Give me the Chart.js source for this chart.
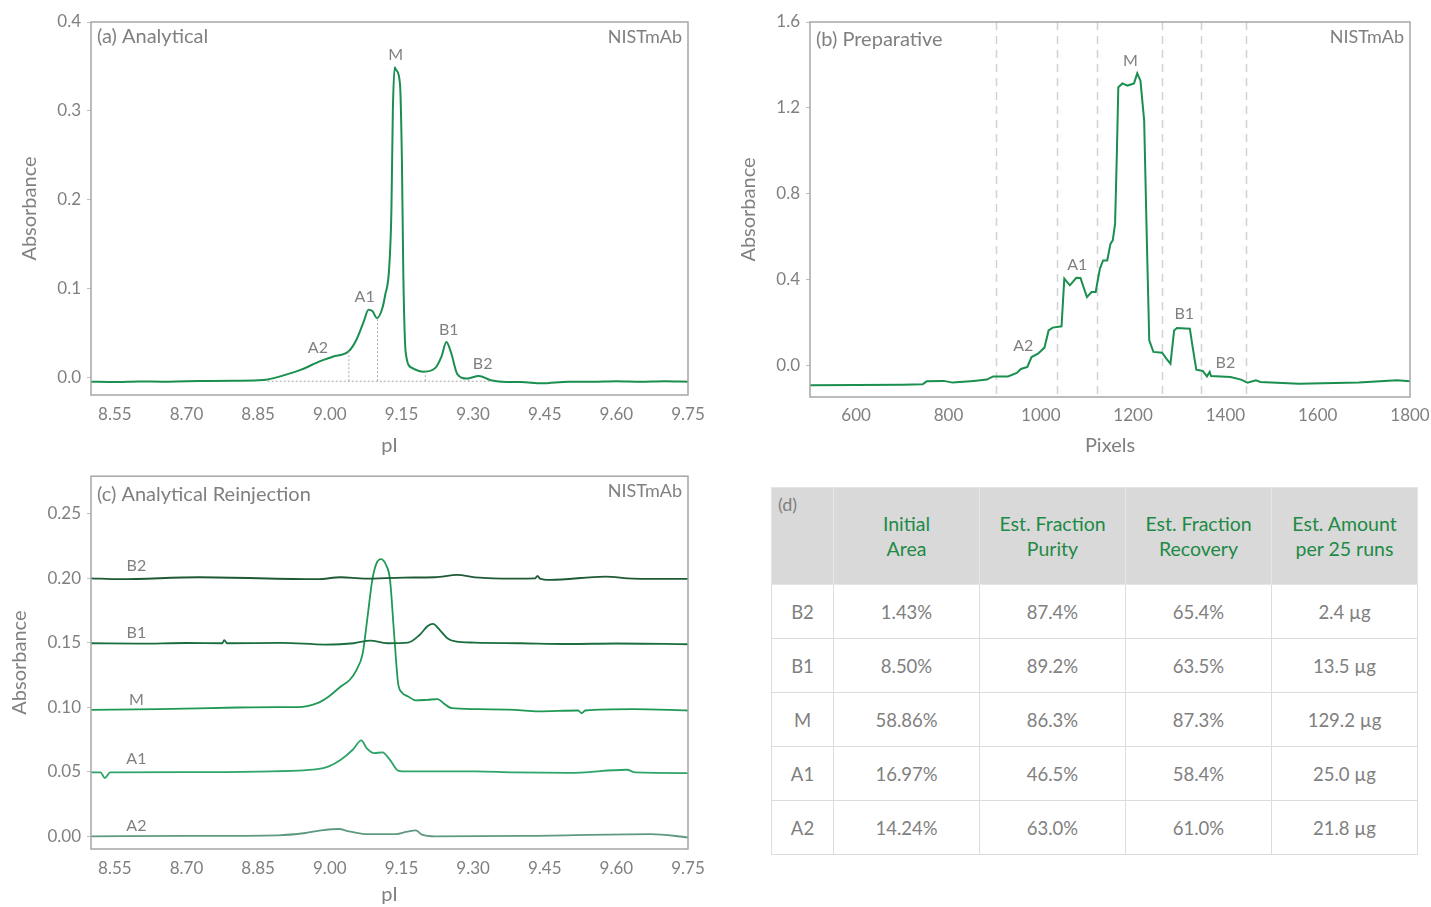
<!DOCTYPE html>
<html><head><meta charset="utf-8">
<script src="https://cdn.jsdelivr.net/npm/chart.js@4.4.0/dist/chart.umd.min.js"></script>
<style>
html,body{margin:0;padding:0;background:#fff;width:1431px;height:907px;overflow:hidden;font-family:Lato,'Open Sans',sans-serif;}
.wrap{position:absolute;}
#tbl{position:absolute;left:771px;top:487px;width:646px;border-collapse:collapse;table-layout:fixed;font-family:Lato,'Open Sans',sans-serif;}
#tbl th,#tbl td{border:1px solid #dcdcdc;text-align:center;padding:0;}
#tbl thead th{background:#d9d9d9;color:#1e8a46;font-weight:normal;font-size:19.5px;line-height:25px;height:92px;border-color:#e6e6e6;}
#tbl thead th.corner{color:#808080;text-align:left;vertical-align:top;padding:4px 0 0 6px;font-size:18px;}
#tbl tbody td{color:#808080;font-size:18.5px;height:53px;}
</style></head><body>
<div class="wrap" style="left:0;top:0;"><canvas id="ca" width="720" height="460"></canvas></div>
<div class="wrap" style="left:720px;top:0;"><canvas id="cb" width="711" height="460"></canvas></div>
<div class="wrap" style="left:0;top:460px;"><canvas id="cc" width="720" height="447"></canvas></div>
<table id="tbl"><colgroup><col style="width:62px"><col style="width:146px"><col style="width:146px"><col style="width:146px"><col style="width:146px"></colgroup>
<thead><tr id="thead"></tr></thead><tbody id="tbody"></tbody></table>
<script>
// ---------- (a) Analytical ----------
const anaPI  = [8.50, 8.55, 8.60, 8.65, 8.70, 8.75, 8.80, 8.85, 8.87, 8.90, 8.94, 8.98, 9.006, 9.04, 9.056, 9.071, 9.081, 9.089, 9.099, 9.110, 9.116, 9.124, 9.129, 9.132, 9.136, 9.139, 9.147, 9.151, 9.154, 9.159, 9.172, 9.197, 9.221, 9.234, 9.244, 9.254, 9.267, 9.287, 9.312, 9.337, 9.37, 9.40, 9.444, 9.50, 9.55, 9.60, 9.65, 9.70, 9.75];
const anaAbs = [-0.0045, -0.005, -0.0042, -0.0045, -0.004, -0.0038, -0.0035, -0.003, -0.002, 0.002, 0.009, 0.0186, 0.0235, 0.030, 0.043, 0.063, 0.0765, 0.075, 0.067, 0.078, 0.093, 0.121, 0.188, 0.300, 0.349, 0.346, 0.330, 0.244, 0.114, 0.028, 0.011, 0.0067, 0.011, 0.024, 0.040, 0.028, 0.004, -0.001, 0.002, -0.003, -0.005, -0.005, -0.0064, -0.0045, -0.0045, -0.004, -0.0045, -0.004, -0.0045];
const anaCutPI  = [9.04, 9.10, 9.20, 9.29];
const anaCutTop = [0.030, 0.067, 0.007, -0.001];
const anaBaseline = -0.004;
const anaBaseRange = [8.87, 9.34];
const anaPeakNames = ['A2', 'A1', 'M', 'B1', 'B2'];
const anaPeakPI    = [8.975, 9.073, 9.138, 9.249, 9.320];
const anaPeakAbs   = [0.033, 0.091, 0.363, 0.054, 0.015];
const pITicks = [8.55, 8.70, 8.85, 9.00, 9.15, 9.30, 9.45, 9.60, 9.75];
const anaYTicks = [0.0, 0.1, 0.2, 0.3, 0.4];

// ---------- (b) Preparative ----------
const prepPx  = [500, 600, 700, 744, 753, 790, 809, 855, 883, 897, 929, 948, 957, 971, 980, 994, 1008, 1017, 1026, 1045, 1051, 1063, 1077, 1086, 1100, 1110, 1119, 1128, 1135, 1144, 1151, 1156, 1161, 1165, 1168, 1177, 1188, 1202, 1209, 1216, 1224, 1230, 1235, 1244, 1263, 1272, 1281, 1289, 1295, 1323, 1329, 1337, 1351, 1360, 1366, 1369, 1411, 1434, 1448, 1466, 1476, 1559, 1689, 1772, 1800];
const prepAbs = [-0.091, -0.090, -0.089, -0.087, -0.073, -0.071, -0.079, -0.071, -0.065, -0.050, -0.050, -0.034, -0.0155, -0.006, 0.040, 0.056, 0.084, 0.164, 0.177, 0.183, 0.405, 0.374, 0.409, 0.408, 0.319, 0.343, 0.343, 0.451, 0.490, 0.490, 0.567, 0.583, 0.66, 1.0, 1.296, 1.314, 1.304, 1.314, 1.361, 1.327, 1.141, 0.567, 0.118, 0.064, 0.060, 0.033, 0.009, 0.164, 0.175, 0.172, 0.087, -0.019, -0.025, -0.050, -0.029, -0.048, -0.053, -0.065, -0.079, -0.068, -0.076, -0.084, -0.079, -0.068, -0.073];
const prepCuts = [902, 1035, 1122, 1263, 1348, 1445];
const prepPeakNames = ['A2', 'A1', 'M', 'B1', 'B2'];
const prepPeakPx    = [962, 1079, 1194, 1311, 1400];
const prepPeakAbs   = [0.094, 0.467, 1.42, 0.243, 0.011];
const pxTicks = [600, 800, 1000, 1200, 1400, 1600, 1800];
const prepYTicks = [0.0, 0.4, 0.8, 1.2, 1.6];

// ---------- (c) Analytical Reinjection ----------
const reB2PI  = [8.50, 8.56, 8.726, 8.974, 9.023, 9.073, 9.155, 9.22, 9.267, 9.304, 9.387, 9.43, 9.435, 9.44, 9.461, 9.577, 9.635, 9.75];
const reB2Abs = [0.1999, 0.1992, 0.2007, 0.1992, 0.2007, 0.1997, 0.2005, 0.2007, 0.2025, 0.2007, 0.1997, 0.1999, 0.2018, 0.1997, 0.1987, 0.2012, 0.1997, 0.1994];
const reB1PI  = [8.50, 8.60, 8.70, 8.775, 8.779, 8.785, 8.90, 8.99, 9.05, 9.085, 9.12, 9.164, 9.188, 9.205, 9.216, 9.23, 9.246, 9.263, 9.304, 9.40, 9.50, 9.60, 9.75];
const reB1Abs = [0.1496, 0.1493, 0.1498, 0.1496, 0.152, 0.1496, 0.1499, 0.1486, 0.1496, 0.1517, 0.1496, 0.1501, 0.156, 0.163, 0.1646, 0.160, 0.1535, 0.151, 0.1501, 0.1496, 0.1490, 0.1494, 0.1488];
const reMPI   = [8.50, 8.643, 8.808, 8.891, 8.932, 8.974, 8.998, 9.023, 9.042, 9.056, 9.069, 9.079, 9.089, 9.098, 9.107, 9.118, 9.126, 9.135, 9.143, 9.151, 9.164, 9.18, 9.205, 9.226, 9.238, 9.255, 9.304, 9.387, 9.436, 9.52, 9.527, 9.535, 9.635, 9.75];
const reMAbs  = [0.098, 0.0986, 0.0998, 0.1001, 0.1001, 0.1032, 0.1084, 0.1161, 0.1213, 0.129, 0.142, 0.170, 0.1987, 0.2116, 0.2147, 0.210, 0.199, 0.155, 0.1187, 0.1115, 0.1084, 0.1053, 0.1058, 0.1063, 0.1032, 0.0993, 0.0986, 0.098, 0.0968, 0.0975, 0.0955, 0.0975, 0.0986, 0.0975];
const reA1PI  = [8.50, 8.52, 8.529, 8.54, 8.70, 8.85, 8.974, 8.998, 9.023, 9.048, 9.066, 9.077, 9.093, 9.11, 9.126, 9.143, 9.164, 9.304, 9.387, 9.50, 9.622, 9.64, 9.75];
const reA1Abs = [0.0495, 0.0495, 0.0452, 0.0495, 0.0497, 0.0502, 0.052, 0.0542, 0.0593, 0.0671, 0.0743, 0.0684, 0.0645, 0.065, 0.0593, 0.051, 0.0503, 0.0503, 0.0495, 0.0492, 0.0516, 0.0495, 0.049];
const reA2PI  = [8.50, 8.70, 8.891, 8.949, 8.982, 9.019, 9.04, 9.073, 9.139, 9.16, 9.18, 9.193, 9.221, 9.40, 9.672, 9.75];
const reA2Abs = [0.0, 0.0003, 0.0008, 0.0026, 0.0046, 0.0057, 0.0039, 0.0018, 0.0018, 0.0034, 0.0046, 0.0013, 0.0, 0.0003, 0.0018, -0.0008];
const reNames = ['B2', 'B1', 'M', 'A1', 'A2'];
const reLabelPI = [8.595, 8.595, 8.595, 8.595, 8.595];
const reLabelAbs = [0.2095, 0.1577, 0.1058, 0.060, 0.0083];
const reYTicks = [0.00, 0.05, 0.10, 0.15, 0.20, 0.25];

// ---------- (d) Table ----------
const tblHeaders = ['Initial<br>Area', 'Est. Fraction<br>Purity', 'Est. Fraction<br>Recovery', 'Est. Amount<br>per 25 runs'];
const tblRows    = ['B2', 'B1', 'M', 'A1', 'A2'];
const tblInitialArea = ['1.43%', '8.50%', '58.86%', '16.97%', '14.24%'];
const tblPurity      = ['87.4%', '89.2%', '86.3%', '46.5%', '63.0%'];
const tblRecovery    = ['65.4%', '63.5%', '87.3%', '58.4%', '61.0%'];
const tblAmount      = ['2.4 µg', '13.5 µg', '129.2 µg', '25.0 µg', '21.8 µg'];

// ===================================================
const FONT = 'Lato, "Open Sans", sans-serif';
const GRAY = '#808080';
const zip = (xs, ys) => xs.map((x, i) => ({x, y: ys[i]}));

const panelPlugin = {
  id: 'panel',
  beforeDatasetsDraw(chart, args, o) {
    const ctx = chart.ctx, a = chart.chartArea, xs = chart.scales.x;
    if (o.cuts) {
      ctx.save();
      ctx.strokeStyle = '#d2d2d2'; ctx.lineWidth = 1.5; ctx.setLineDash([8, 6]);
      o.cuts.forEach(v => {
        const px = Math.round(xs.getPixelForValue(v)) + 0.5;
        ctx.beginPath(); ctx.moveTo(px, a.top); ctx.lineTo(px, a.bottom); ctx.stroke();
      });
      ctx.restore();
    }
  },
  afterDraw(chart, args, o) {
    const ctx = chart.ctx, a = chart.chartArea, xs = chart.scales.x, ys = chart.scales.y;
    ctx.save();
    ctx.strokeStyle = '#a6a6a6'; ctx.lineWidth = 1.5;
    ctx.strokeRect(a.left, a.top, a.right - a.left, a.bottom - a.top);
    ctx.fillStyle = GRAY; ctx.textBaseline = 'middle';
    ctx.font = '20px ' + FONT; ctx.textAlign = 'left';
    ctx.fillText(o.title, a.left + 6, a.top + o.titleDy);
    ctx.font = '18px ' + FONT; ctx.textAlign = 'right';
    ctx.fillText('NISTmAb', a.right - 6, a.top + 15);
    ctx.font = '16px ' + FONT; ctx.textAlign = 'center';
    o.labels.names.forEach((n, i) => {
      ctx.fillText(n, xs.getPixelForValue(o.labels.x[i]), ys.getPixelForValue(o.labels.y[i]));
    });
    ctx.restore();
  }
};

function makeOpts(cfg) {
  return {
    responsive: false, animation: false,
    layout: {padding: {left: 0, top: cfg.padTop, right: cfg.padRight, bottom: 0}},
    plugins: {legend: {display: false}, tooltip: {enabled: false}, panel: cfg.panel},
    elements: {point: {radius: 0}, line: {tension: 0}},
    scales: {
      x: {
        type: 'linear', min: cfg.xmin, max: cfg.xmax,
        afterBuildTicks: s => { s.ticks = cfg.xticks.map(v => ({value: v})); },
        ticks: {callback: cfg.xfmt, color: GRAY, font: {size: 17, family: FONT}, padding: cfg.xTickPad, maxRotation: 0, autoSkip: false},
        grid: {display: false}, border: {display: false},
        title: {display: true, text: cfg.xtitle, color: GRAY, font: {size: 20, family: FONT}, padding: {top: 0, bottom: cfg.xTitlePad}},
        afterFit: s => { s.height = cfg.xh; }
      },
      y: {
        type: 'linear', min: cfg.ymin, max: cfg.ymax,
        afterBuildTicks: s => { s.ticks = cfg.yticks.map(v => ({value: v})); },
        ticks: {callback: cfg.yfmt, color: GRAY, font: {size: 17, family: FONT}, padding: 6},
        grid: {drawOnChartArea: false, drawTicks: true, tickLength: 4, color: '#bfbfbf'}, border: {display: false},
        title: {display: true, text: 'Absorbance', color: GRAY, font: {size: 20, family: FONT}, padding: {top: cfg.yTitlePad, bottom: 0}},
        afterFit: s => { s.width = cfg.yw; }
      }
    }
  };
}
Chart.register(panelPlugin);

// (a)
const dotted = {borderColor: '#a8a8a8', borderWidth: 1, borderDash: [2, 2], pointRadius: 0, fill: false};
const anaDatasets = [
  {data: zip(anaBaseRange, [anaBaseline, anaBaseline]), ...dotted},
  ...anaCutPI.map((v, i) => ({data: zip([v, v], [anaBaseline, anaCutTop[i]]), ...dotted})),
  {data: zip(anaPI, anaAbs), borderColor: '#1a8f4f', borderWidth: 2, cubicInterpolationMode: 'monotone'}
];
new Chart(document.getElementById('ca'), {
  type: 'line', data: {datasets: anaDatasets},
  options: makeOpts({padTop: 22, padRight: 32, xmin: 8.5, xmax: 9.75, xticks: pITicks, xfmt: v => v.toFixed(2), xtitle: 'pI', xTitlePad: 2, xh: 65, xTickPad: 1,
    ymin: -0.0195, ymax: 0.4, yticks: anaYTicks, yfmt: v => v.toFixed(1), yTitlePad: 18, yw: 91,
    panel: {title: '(a) Analytical', titleDy: 15, labels: {names: anaPeakNames, x: anaPeakPI, y: anaPeakAbs}}})
});

// (b)
new Chart(document.getElementById('cb'), {
  type: 'line', data: {datasets: [{data: zip(prepPx, prepAbs), borderColor: '#1a8f4f', borderWidth: 2}]},
  options: makeOpts({padTop: 22, padRight: 21, xmin: 500, xmax: 1800, xticks: pxTicks, xfmt: v => String(v), xtitle: 'Pixels', xTitlePad: 2, xh: 63, xTickPad: 0,
    ymin: -0.146, ymax: 1.6, yticks: prepYTicks, yfmt: v => v.toFixed(1), yTitlePad: 17, yw: 90,
    panel: {title: '(b) Preparative', titleDy: 18, cuts: prepCuts, labels: {names: prepPeakNames, x: prepPeakPx, y: prepPeakAbs}}})
});

// (c)
const reSeries = [
  [reB2PI, reB2Abs, '#1f5a36'],
  [reB1PI, reB1Abs, '#1a6e3e'],
  [reMPI, reMAbs, '#1f9955'],
  [reA1PI, reA1Abs, '#2ea36a'],
  [reA2PI, reA2Abs, '#5f9a80']
];
new Chart(document.getElementById('cc'), {
  type: 'line',
  data: {datasets: reSeries.map(s => ({data: zip(s[0], s[1]), borderColor: s[2], borderWidth: 1.8, cubicInterpolationMode: 'monotone'}))},
  options: makeOpts({padTop: 16, padRight: 32, xmin: 8.5, xmax: 9.75, xticks: pITicks, xfmt: v => v.toFixed(2), xtitle: 'pI', xTitlePad: 0, xh: 58, xTickPad: 1,
    ymin: -0.0098, ymax: 0.279, yticks: reYTicks, yfmt: v => v.toFixed(2), yTitlePad: 8, yw: 91,
    panel: {title: '(c) Analytical Reinjection', titleDy: 18, labels: {names: reNames, x: reLabelPI, y: reLabelAbs}}})
});

// (d) table
document.getElementById('thead').innerHTML = '<th class="corner">(d)</th>' + tblHeaders.map(h => '<th>' + h + '</th>').join('');
document.getElementById('tbody').innerHTML = tblRows.map((r, i) =>
  '<tr><td>' + r + '</td><td>' + tblInitialArea[i] + '</td><td>' + tblPurity[i] + '</td><td>' + tblRecovery[i] + '</td><td>' + tblAmount[i] + '</td></tr>').join('');
</script>
</body></html>
